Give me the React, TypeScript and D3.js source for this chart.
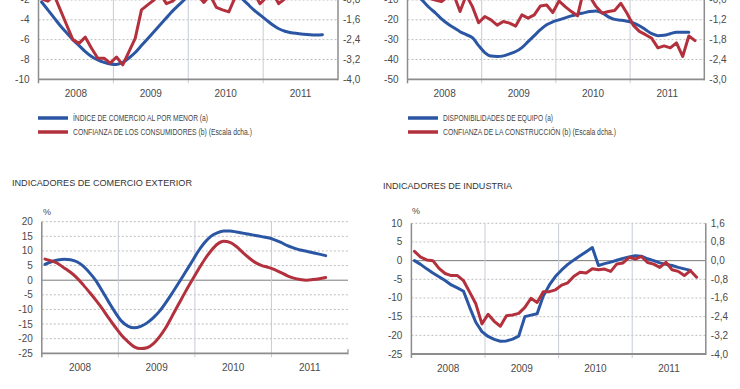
import React from "react";
import * as d3 from "d3";

const years = ["2008", "2009", "2010", "2011"];

// ---- Top-left panel ----
const retailSales = [-2.2, -3.0, -3.8, -4.6, -5.3, -6.0, -6.6, -7.2, -7.7, -8.05, -8.3, -8.45, -8.5, -8.3, -7.85, -7.3, -6.6, -5.9, -5.2, -4.5, -3.8, -3.1, -2.5, -1.9, -1.3, -0.9, -0.6, -0.4, -0.3, -0.4, -0.7, -1.2, -1.8, -2.4, -3.0, -3.5, -4.0, -4.5, -4.9, -5.15, -5.3, -5.38, -5.45, -5.5, -5.52, -5.5];
const consumerConfidence = [-0.75, -0.85, -0.6, -1.2, -1.8, -2.4, -2.55, -2.3, -2.75, -3.15, -3.15, -3.35, -3.1, -3.42, -2.88, -2.35, -1.2, -1.0, -0.8, -0.55, -0.95, -0.85, -0.6, -0.5, -0.4, -0.6, -0.9, -0.6, -1.1, -1.2, -1.28, -0.7, -0.4, -0.3, -0.5, -0.95, -0.7, -0.5, -0.95, -0.75, -0.6, -0.5, -0.4, -0.45, -0.4];
const tlLeftTicks = [-10, -8, -6, -4, -2];
const tlRightTicks = [-4.0, -3.2, -2.4, -1.6, -0.8];

// ---- Top-right panel ----
const equipment = [-5, -7.5, -10.5, -13.8, -16.5, -19.5, -22, -24, -26, -27.5, -29, -33, -36.5, -38.3, -38.5, -38.2, -37.2, -36, -34, -31, -28, -25, -22.5, -21, -20, -19, -18, -17.2, -16.5, -15.8, -15.5, -16.5, -18.5, -19.8, -20.2, -20.7, -21.5, -23, -25, -27, -28, -27.8, -27, -26.3, -26.3, -26.3];
const constructionConfidence = [-0.4, -0.5, -0.45, -0.55, -0.6, -0.65, -0.5, -0.45, -0.95, -0.45, -0.8, -1.29, -1.1, -1.2, -1.36, -1.25, -1.3, -1.39, -1.05, -1.15, -1.05, -0.78, -0.75, -0.98, -0.63, -0.8, -0.95, -1.08, -0.3, -0.5, -0.8, -1.0, -0.95, -0.92, -0.7, -1.0, -1.36, -1.55, -1.65, -1.76, -2.05, -1.99, -2.05, -1.9, -2.31, -1.69, -1.83];
const trLeftTicks = [-50, -40, -30, -20, -10];
const trRightTicks = [-3.0, -2.4, -1.8, -1.2, -0.6];

// ---- Bottom-left panel ----
const exportsSeries = [5.4, 6.3, 6.9, 7.2, 7.0, 6.3, 4.8, 2.5, -0.2, -3.8, -7.5, -11, -14, -15.7, -16.3, -15.8, -14.6, -12.8, -10.5, -7.5, -4.2, -0.8, 2.7, 6.2, 9.8, 12.8, 15.0, 16.2, 16.8, 16.8, 16.5, 16.1, 15.7, 15.3, 14.9, 14.5, 13.8, 12.9, 11.8, 11.0, 10.3, 9.9, 9.4, 8.9, 8.4];
const importsSeries = [7.2, 6.6, 5.7, 4.2, 2.7, 0.8, -1.6, -4.2, -6.9, -9.8, -13, -16, -18.8, -21, -22.8, -23.4, -23.1, -21.7, -19.2, -16, -12, -8, -4, -0.2, 3.5, 7.0, 10.0, 12.3, 13.3, 12.9, 11.5, 9.5, 7.6, 6.0, 5.0, 4.4, 3.6, 2.6, 1.5, 0.7, 0.2, 0.0, 0.2, 0.5, 0.9];
const blLeftTicks = [-25, -20, -15, -10, -5, 0, 5, 10, 15, 20];

// ---- Bottom-right panel ----
const industrialProduction = [0, -1.0, -2.2, -3.3, -4.3, -5.3, -6.5, -7.3, -8.2, -12.5, -16.5, -19.0, -20.3, -21.1, -21.6, -21.5, -21.0, -20.2, -15.0, -14.6, -14.2, -9.5, -6.5, -4.2, -2.5, -1.0, 0.2, 1.3, 2.4, 3.5, -1.3, -0.8, -0.4, 0.1, 0.6, 1.0, 1.3, 1.2, 0.5, 0.0, -0.6, -1.0, -1.3, -1.8, -2.2, -2.6];
const industryConfidence = [0.4, 0.15, 0.03, 0.0, -0.33, -0.55, -0.64, -0.64, -0.86, -1.35, -1.85, -2.71, -2.3, -2.6, -2.81, -2.36, -2.33, -2.26, -2.0, -1.61, -1.79, -1.33, -1.33, -1.25, -1.05, -0.95, -0.67, -0.5, -0.53, -0.35, -0.39, -0.36, -0.46, -0.14, -0.1, 0.14, 0.07, 0.18, -0.08, -0.15, -0.29, -0.07, -0.39, -0.46, -0.64, -0.43, -0.71];
const brLeftTicks = [-25, -20, -15, -10, -5, 0, 5, 10];
const brRightTicks = [-4.0, -3.2, -2.4, -1.6, -0.8, 0.0, 0.8, 1.6];

const BLUE = "#2a56a4";
const RED = "#b3303d";
const FONT = "'Liberation Sans', Arial, sans-serif";
const TXT = "#4a4a4a";

const fmtComma = (v: number) => d3.format(".1f")(v).replace(".", ",").replace("−", "-");
const fmtInt = (v: number) => d3.format("d")(v).replace("−", "-");

type Series = { values: number[]; color: string; axis: "left" | "right"; smooth: boolean };
type PanelCfg = {
  x0: number; x1: number; yTop: number; yBot: number;
  leftDomain: [number, number]; leftTicks: number[];
  rightDomain?: [number, number]; rightTicks?: number[];
  zeroLine: boolean; rightAxis: boolean;
  series: Series[];
};

function Panel({ p }: { p: PanelCfg }) {
  const x = d3.scaleLinear().domain([0, 48]).range([p.x0, p.x1]);
  const yL = d3.scaleLinear().domain(p.leftDomain).range([p.yBot, p.yTop]);
  const yR = p.rightDomain ? d3.scaleLinear().domain(p.rightDomain).range([p.yBot, p.yTop]) : null;
  const yearBounds = [12, 24, 36];
  return (
    <g>
      {p.leftTicks.filter((t) => t !== p.leftDomain[0]).map((t) => (
        <line key={"g" + t} x1={p.x0} x2={p.x1} y1={yL(t)} y2={yL(t)}
          stroke={t === 0 && p.zeroLine ? "#7a7a7a" : "#bdbdbd"}
          strokeWidth={1}
          strokeDasharray={t === 0 && p.zeroLine ? undefined : "2,2"} />
      ))}
      {yearBounds.map((b) => (
        <line key={"d" + b} x1={x(b)} x2={x(b)} y1={p.yTop} y2={p.yBot + 4} stroke="#c6cbd6" strokeWidth={1} />
      ))}
      <line x1={p.x0} x2={p.x0} y1={p.yTop} y2={p.yBot + 4} stroke="#8c8c8c" strokeWidth={1.5} />
      <line x1={p.x0} x2={p.x1} y1={p.yBot} y2={p.yBot} stroke="#8c8c8c" strokeWidth={1.8} />
      {p.rightAxis ? (
        <line x1={p.x1} x2={p.x1} y1={p.yTop} y2={p.yBot + 1} stroke="#8c8c8c" strokeWidth={1.5} />
      ) : (
        <line x1={p.x1} x2={p.x1} y1={p.yBot - 4} y2={p.yBot + 1} stroke="#8c8c8c" strokeWidth={1.2} />
      )}
      {p.leftTicks.map((t) => (
        <text key={"l" + t} x={p.x0 - 9} y={yL(t)} dy="0.35em" textAnchor="end"
          fontSize={10} fontFamily={FONT} fill={TXT}>{fmtInt(t)}</text>
      ))}
      {yR && p.rightTicks && p.rightTicks.map((t) => (
        <text key={"r" + t} x={p.x1 + 5} y={yR(t)} dy="0.35em" textAnchor="start"
          fontSize={10} fontFamily={FONT} fill={TXT}>{fmtComma(t)}</text>
      ))}
      {years.map((yr, i) => (
        <text key={yr} x={x(i * 12 + 6)} y={p.yBot + 17.5} textAnchor="middle"
          fontSize={10} fontFamily={FONT} fill={TXT}>{yr}</text>
      ))}
      {p.series.map((s, k) => {
        const ys = s.axis === "right" && yR ? yR : yL;
        const gen = d3.line<number>()
          .x((_, i) => x(i + 0.5))
          .y((d) => ys(d))
          .curve(s.smooth ? d3.curveMonotoneX : d3.curveLinear);
        return <path key={k} d={gen(s.values) || ""} fill="none" stroke={s.color}
          strokeWidth={3} strokeLinejoin="round" strokeLinecap="round" />;
      })}
    </g>
  );
}

function Legend({ x, y, items }: { x: number; y: number; items: { label: string; color: string; w: number }[] }) {
  return (
    <g>
      {items.map((it, i) => (
        <g key={i}>
          <line x1={x} x2={x + 30} y1={y + i * 14} y2={y + i * 14} stroke={it.color} strokeWidth={3.5} />
          <text x={x + 35} y={y + i * 14 + 3} fontSize={8.5} fontFamily={FONT} fill="#444"
            textLength={it.w} lengthAdjust="spacingAndGlyphs">{it.label}</text>
        </g>
      ))}
    </g>
  );
}

export default function App() {
  const panels: PanelCfg[] = [
    {
      x0: 38.5, x1: 338, yTop: 79.3 - 12 * 9.915, yBot: 79.3,
      leftDomain: [-10, 2], leftTicks: tlLeftTicks,
      rightDomain: [-4.0, 0.8], rightTicks: tlRightTicks,
      zeroLine: false, rightAxis: true,
      series: [
        { values: retailSales, color: BLUE, axis: "left", smooth: true },
        { values: consumerConfidence, color: RED, axis: "right", smooth: false },
      ],
    },
    {
      x0: 407.5, x1: 704.3, yTop: 79.3 - 6 * 19.83, yBot: 79.3,
      leftDomain: [-50, 10], leftTicks: trLeftTicks,
      rightDomain: [-3.0, 0.6], rightTicks: trRightTicks,
      zeroLine: false, rightAxis: true,
      series: [
        { values: equipment, color: BLUE, axis: "left", smooth: true },
        { values: constructionConfidence, color: RED, axis: "right", smooth: false },
      ],
    },
    {
      x0: 41.8, x1: 348, yTop: 221.7, yBot: 353.3,
      leftDomain: [-25, 20], leftTicks: blLeftTicks,
      zeroLine: true, rightAxis: false,
      series: [
        { values: exportsSeries, color: BLUE, axis: "left", smooth: true },
        { values: importsSeries, color: RED, axis: "left", smooth: true },
      ],
    },
    {
      x0: 411.4, x1: 705.8, yTop: 223.3, yBot: 354,
      leftDomain: [-25, 10], leftTicks: brLeftTicks,
      rightDomain: [-4.0, 1.6], rightTicks: brRightTicks,
      zeroLine: true, rightAxis: true,
      series: [
        { values: industrialProduction, color: BLUE, axis: "left", smooth: false },
        { values: industryConfidence, color: RED, axis: "right", smooth: false },
      ],
    },
  ];
  return (
    <svg width={740} height={389} style={{ position: "absolute", left: 0, top: 0, background: "#fff" }}>
      <rect width={740} height={389} fill="#fff" />
      {panels.map((p, i) => <Panel key={i} p={p} />)}
      <Legend x={38} y={118} items={[
        { label: "ÍNDICE DE COMERCIO AL POR MENOR (a)", color: BLUE, w: 135 },
        { label: "CONFIANZA DE LOS CONSUMIDORES (b) (Escala dcha.)", color: RED, w: 179 },
      ]} />
      <Legend x={408} y={118} items={[
        { label: "DISPONIBILIDADES DE EQUIPO (a)", color: BLUE, w: 110 },
        { label: "CONFIANZA DE LA CONSTRUCCIÓN (b) (Escala dcha.)", color: RED, w: 173 },
      ]} />
      <text x={12} y={186} fontSize={8.5} fontFamily={FONT} fill="#333" textLength={180} lengthAdjust="spacingAndGlyphs">INDICADORES DE COMERCIO EXTERIOR</text>
      <text x={383} y={189} fontSize={8.5} fontFamily={FONT} fill="#333" textLength={129} lengthAdjust="spacingAndGlyphs">INDICADORES DE INDUSTRIA</text>
      <text x={43} y={215} fontSize={9} fontFamily={FONT} fill={TXT}>%</text>
      <text x={412} y={214} fontSize={9} fontFamily={FONT} fill={TXT}>%</text>
    </svg>
  );
}
